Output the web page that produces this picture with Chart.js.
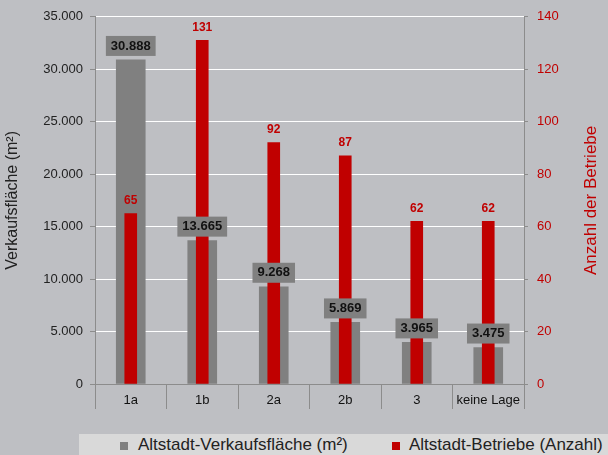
<!DOCTYPE html>
<html>
<head>
<meta charset="utf-8">
<script src="https://cdn.jsdelivr.net/npm/chart.js@4"></script>
<style>
  body { margin: 0; background: #bebfc3; }
  #wrap { position: relative; width: 608px; height: 455px; }
  #legend {
    position: absolute; left: 79px; top: 434px; width: 529px; height: 21px;
    background: #d9d9d9; font-family: 'Liberation Sans', Arial, sans-serif;
    font-size: 17px; color: #222;
  }
  #legend span { position: absolute; top: 1px; white-space: nowrap; }
  #legend i { position: absolute; top: 8px; width: 8px; height: 8px; }
</style>
</head>
<body>
<div id="wrap">
  <canvas id="chart" width="608" height="455"></canvas>
  <div id="legend">
    <i style="left:41px;background:#808080"></i><span style="left:59px">Altstadt-Verkaufsfläche (m²)</span>
    <i style="left:313px;background:#c00000"></i><span style="left:330px">Altstadt-Betriebe (Anzahl)</span>
  </div>
</div>
<script>
// Lagen in der Altstadt
const categories = ['1a', '1b', '2a', '2b', '3', 'keine Lage'];
const flaeche = [30888, 13665, 9268, 5869, 3965, 3475];
const betriebe = [65, 131, 92, 87, 62, 62];
const leftTicks = [0, 5000, 10000, 15000, 20000, 25000, 30000, 35000];
const rightTicks = [0, 20, 40, 60, 80, 100, 120, 140];

const FONT = "'Liberation Sans', Arial, sans-serif";
Chart.defaults.font.family = FONT;

const fmt = v => v.toLocaleString('de-DE');

// Wertebeschriftungen und rechter Achsentitel
const labelPlugin = {
    id: 'labels',
    afterDatasetsDraw(chart) {
        const ctx = chart.ctx;
        ctx.save();
        ctx.textAlign = 'center';
        ctx.textBaseline = 'middle';
        ctx.font = 'bold 13px ' + FONT;
        chart.getDatasetMeta(0).data.forEach((bar, i) => {
            const txt = fmt(flaeche[i]);
            const w = ctx.measureText(txt).width + 10;
            ctx.fillStyle = '#808080';
            ctx.fillRect(bar.x - w / 2, bar.y - 24, w, 20);
            ctx.fillStyle = '#111';
            ctx.fillText(txt, bar.x, bar.y - 14);
        });
        ctx.font = 'bold 12px ' + FONT;
        ctx.fillStyle = '#c00000';
        chart.getDatasetMeta(1).data.forEach((bar, i) => {
            ctx.fillText(String(betriebe[i]), bar.x, bar.y - 13);
        });
        // rechter Titel, von unten nach oben
        const area = chart.chartArea;
        ctx.translate(591, (area.top + area.bottom) / 2);
        ctx.rotate(-Math.PI / 2);
        ctx.font = '17px ' + FONT;
        ctx.fillText('Anzahl der Betriebe', 0, 0);
        ctx.restore();
    }
};

const ctx = document.getElementById('chart').getContext('2d');
new Chart(ctx, {
    type: 'bar',
    data: {
        labels: categories,
        datasets: [{
            label: 'Altstadt-Verkaufsfläche (m²)',
            data: flaeche,
            backgroundColor: '#808080',
            barThickness: 29,
            yAxisID: 'y',
            order: 2
        }, {
            label: 'Altstadt-Betriebe (Anzahl)',
            data: betriebe,
            backgroundColor: '#c00000',
            barThickness: 12,
            yAxisID: 'y1',
            order: 1
        }]
    },
    options: {
        responsive: false,
        animation: false,
        layout: { padding: { top: 14, bottom: 0, left: 0, right: 0 } },
        datasets: { bar: { grouped: false } },
        plugins: {
            legend: { display: false },
            tooltip: { enabled: false }
        },
        scales: {
            x: {
                offset: true,
                afterFit: s => { s.height = 71; },
                grid: {
                    offset: true,
                    drawOnChartArea: false,
                    tickLength: 25,
                    tickColor: '#8c8c8c'
                },
                border: { color: '#8c8c8c' },
                ticks: { color: '#111', font: { size: 13 }, padding: -16 }
            },
            y: {
                position: 'left',
                min: 0,
                max: 35000,
                afterFit: s => { s.width = 95; },
                afterBuildTicks: s => { s.ticks = leftTicks.map(v => ({ value: v })); },
                grid: {
                    color: c => c.tick.value === 0 ? 'rgba(0,0,0,0)' : '#ffffff',
                    tickColor: '#8c8c8c',
                    tickLength: 5
                },
                border: { color: '#8c8c8c' },
                ticks: { color: '#222', font: { size: 13 }, padding: 7, callback: v => fmt(v) },
                title: {
                    display: true,
                    text: 'Verkaufsfläche (m²)',
                    color: '#222',
                    font: { size: 16 },
                    padding: { top: 3, bottom: 4 }
                }
            },
            y1: {
                position: 'right',
                min: 0,
                max: 140,
                afterFit: s => { s.width = 84; },
                afterBuildTicks: s => { s.ticks = rightTicks.map(v => ({ value: v })); },
                grid: {
                    drawOnChartArea: false,
                    tickColor: '#8c8c8c',
                    tickLength: 4
                },
                border: { color: '#8c8c8c' },
                ticks: { color: '#c00000', font: { size: 13 }, padding: 9 }
            }
        }
    },
    plugins: [labelPlugin]
});
</script>
</body>
</html>
